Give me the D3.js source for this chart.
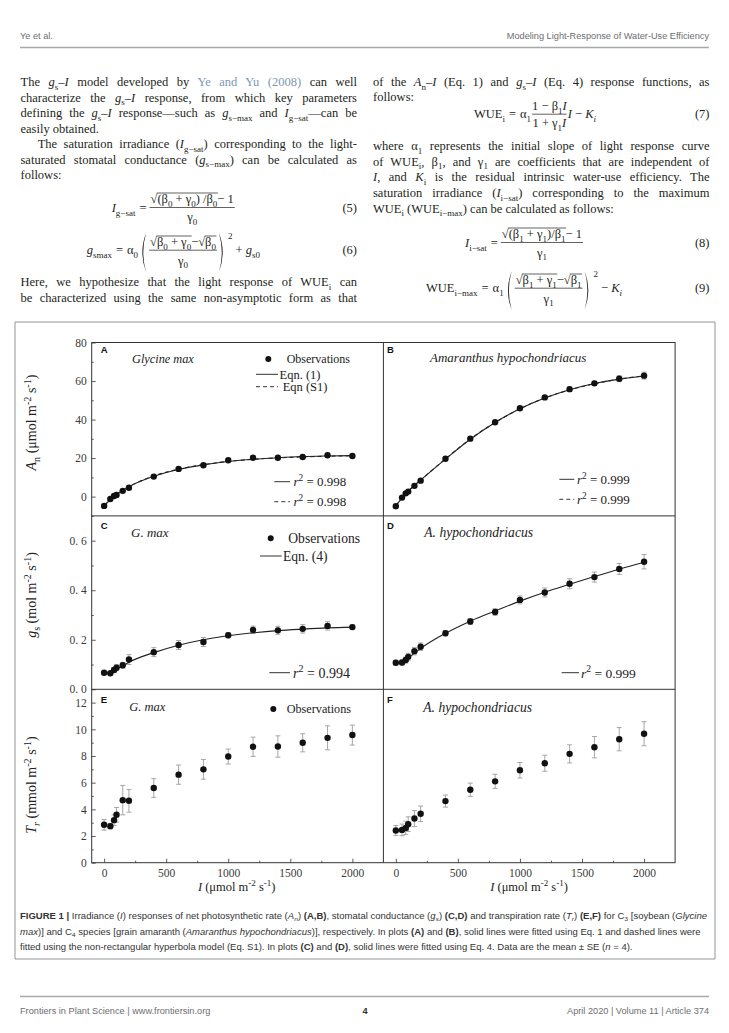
<!DOCTYPE html>
<html>
<head>
<meta charset="utf-8">
<script src="https://cdn.jsdelivr.net/npm/d3@7"></script>
<style>
  body { margin: 0; background: #fff; }
  svg { display: block; }
</style>
</head>
<body>
<div id="page"></div>
<script>
// ---- data ----
const irradiance = [0, 50, 80, 100, 150, 200, 400, 600, 800, 1000, 1200, 1400, 1600, 1800, 2000];

// net photosynthetic rate An (umol m-2 s-1)
const anSoy   = [-4.8, -1.2, 0.3, 0.9, 3.0, 4.6, 10.4, 14.4, 16.3, 18.9, 20.2, 20.2, 20.6, 21.5, 21.1];
const anSoySE = [0.3, 0.3, 0.3, 0.3, 0.3, 0.3, 0.4, 0.5, 0.5, 0.5, 0.5, 0.5, 0.6, 0.6, 0.6];
const anSoyFit1  = [-4.6, -1.6, 0.1, 1.1, 3.3, 5.2, 10.6, 14.1, 16.5, 18.2, 19.4, 20.2, 20.8, 21.1, 21.3];
const anSoyFitS1 = [-4.7, -1.6, 0.1, 1.1, 3.3, 5.2, 10.7, 14.3, 16.6, 18.3, 19.4, 20.1, 20.6, 21.0, 21.2];
const anAma   = [-5.0, -0.5, 1.7, 2.6, 5.6, 8.3, 19.7, 30.1, 38.6, 45.9, 51.5, 55.8, 58.8, 61.2, 62.8];
const anAmaSE = [0.3, 0.3, 0.3, 0.3, 0.4, 0.4, 0.5, 0.6, 0.7, 0.8, 0.9, 1.0, 1.1, 1.5, 1.8];
const anAmaFit1  = [-4.8, -0.6, 1.6, 2.9, 5.8, 8.6, 19.5, 29.8, 38.5, 45.6, 51.2, 55.5, 58.7, 61.0, 62.6];
const anAmaFitS1 = [-4.8, -0.6, 1.6, 2.9, 5.8, 8.6, 19.6, 29.9, 38.5, 45.6, 51.2, 55.4, 58.6, 61.0, 62.7];

// stomatal conductance gs (mol m-2 s-1)
const gsSoy   = [0.067, 0.065, 0.078, 0.087, 0.097, 0.120, 0.150, 0.179, 0.191, 0.218, 0.240, 0.238, 0.244, 0.256, 0.251];
const gsSoySE = [0.005, 0.005, 0.010, 0.012, 0.012, 0.020, 0.018, 0.018, 0.018, 0.010, 0.015, 0.016, 0.017, 0.017, 0.008];
const gsSoyFit = [0.064, 0.070, 0.077, 0.082, 0.094, 0.109, 0.148, 0.178, 0.200, 0.216, 0.228, 0.237, 0.243, 0.248, 0.251];
const gsAma   = [0.107, 0.108, 0.118, 0.131, 0.154, 0.172, 0.226, 0.274, 0.312, 0.361, 0.391, 0.426, 0.453, 0.486, 0.515];
const gsAmaSE = [0.010, 0.010, 0.012, 0.014, 0.015, 0.015, 0.010, 0.012, 0.013, 0.016, 0.018, 0.020, 0.020, 0.022, 0.029];
const gsAmaFit = [0.104, 0.110, 0.119, 0.126, 0.146, 0.165, 0.226, 0.275, 0.316, 0.356, 0.392, 0.424, 0.455, 0.485, 0.513];

// transpiration rate Tr (mmol m-2 s-1)
const trSoy   = [2.84, 2.74, 3.19, 3.59, 4.69, 4.64, 5.60, 6.60, 7.00, 7.96, 8.69, 8.71, 8.99, 9.36, 9.57];
const trSoySE = [0.40, 0.20, 0.40, 0.55, 1.10, 0.85, 0.70, 0.72, 0.74, 0.56, 0.72, 0.80, 0.68, 0.90, 0.75];
const trAma   = [2.41, 2.46, 2.61, 2.89, 3.31, 3.67, 4.62, 5.47, 6.10, 6.93, 7.46, 8.16, 8.66, 9.26, 9.67];
const trAmaSE = [0.38, 0.44, 0.50, 0.55, 0.60, 0.58, 0.45, 0.50, 0.53, 0.58, 0.60, 0.68, 0.80, 0.87, 0.90];

const xTicks = [0, 500, 1000, 1500, 2000];
const xMinor = [250, 750, 1250, 1750];
const anTicks = [0, 20, 40, 60, 80];
const anMinor = [-10, 10, 30, 50, 70];
const gsTicks = [0, 0.2, 0.4, 0.6];
const gsMinor = [0.1, 0.3, 0.5];
const trTicks = [0, 2, 4, 6, 8, 10, 12];
const trMinor = [1, 3, 5, 7, 9, 11];

// ---- page ----
const SERIF = "'Liberation Serif','Times New Roman',serif";
const SANS = "'Liberation Sans',Arial,sans-serif";
const INK = '#231f20';
const LINK = '#7d98b3';

const svg = d3.select('#page').append('svg')
    .attr('width', 729)
    .attr('height', 1033);

// markup: plain text with {i:..} {b:..} {sub:..} {sup:..} {isub:..} {c:..}
function rich(parent, x, y, markup, o) {
    o = o || {};
    const size = o.size || 12.5;
    const t = parent.append('text')
        .attr('x', x).attr('y', y)
        .attr('font-family', o.family || SERIF)
        .attr('font-size', size)
        .attr('fill', o.fill || INK);
    if (o.anchor) t.attr('text-anchor', o.anchor);
    if (o.transform) t.attr('transform', o.transform);
    let shift = 0;
    const re = /\{(\w+):([^}]*)\}|([^{]+)/g;
    let m;
    while ((m = re.exec(markup))) {
        const style = m[1] || '';
        const str = m[1] ? m[2] : m[3];
        let target = 0;
        if (style.includes('sub')) target = size * 0.28;
        if (style.includes('sup')) target = -size * 0.38;
        const ts = t.append('tspan').text(str);
        if (target !== shift) { ts.attr('dy', target - shift); shift = target; }
        if (target !== 0) ts.attr('font-size', size * 0.72);
        if (style.startsWith('i')) ts.attr('font-style', 'italic');
        if (style.startsWith('b')) ts.attr('font-weight', 'bold');
        if (style === 'c') ts.attr('fill', LINK);
    }
    return t;
}

function justify(t, width) {
    const w = t.node().getComputedTextLength();
    const n = (t.text().match(/ /g) || []).length;
    if (n) t.attr('word-spacing', (width - w) / n);
}

function put(x, y, markup, size) {
    const t = rich(svg, x, y, markup, { size: size || 12.5 });
    return t.node().getComputedTextLength();
}

function measure(markup, o) {
    const t = rich(svg, 0, 50, markup, o);
    const w = t.node().getComputedTextLength();
    t.remove();
    return w;
}

function sqrtPiece(x, y, markup, size) {
    const wr = put(x, y, '√', size);
    const w = put(x + wr, y, markup, size);
    svg.append('line')
        .attr('x1', x + wr - 0.6).attr('x2', x + wr + w + 0.5)
        .attr('y1', y - size * 0.8).attr('y2', y - size * 0.8)
        .attr('stroke', INK).attr('stroke-width', 0.7);
    return wr + w;
}

function bar(x1, x2, y) {
    svg.append('line').attr('x1', x1).attr('x2', x2).attr('y1', y).attr('y2', y)
        .attr('stroke', INK).attr('stroke-width', 0.7);
}

function paren(x, y1, y2, left) {
    const mid = (y1 + y2) / 2;
    const p = left
        ? `M${x + 5},${y1} Q${x - 2.5},${mid} ${x + 5},${y2} Q${x - 0.6},${mid} ${x + 5},${y1}Z`
        : `M${x},${y1} Q${x + 7.5},${mid} ${x},${y2} Q${x + 5.6},${mid} ${x},${y1}Z`;
    svg.append('path').attr('d', p).attr('fill', INK);
}

// header / footer
function grayText(x, y, s, anchor, bold) {
    svg.append('text').attr('x', x).attr('y', y)
        .attr('font-family', SANS).attr('font-size', 9.2)
        .attr('fill', bold ? '#333' : '#6d6e71')
        .attr('font-weight', bold ? 'bold' : null)
        .attr('text-anchor', anchor || 'start')
        .text(s);
}
grayText(20, 39, 'Ye et al.');
grayText(709, 39, 'Modeling Light-Response of Water-Use Efficiency', 'end');
grayText(20, 1014, 'Frontiers in Plant Science | www.frontiersin.org');
grayText(365, 1014, '4', 'middle', true);
grayText(709, 1014, 'April 2020 | Volume 11 | Article 374', 'end');
[47.5, 996.5].forEach(y => {
    svg.append('line').attr('x1', 20).attr('x2', 709).attr('y1', y).attr('y2', y)
        .attr('stroke', '#a7a9ac').attr('stroke-width', 1.4);
});

// body text, left column
const leftLines = [
    [20.5, 86, 'The {i:g}{sub:s}–{i:I} model developed by {c:Ye and Yu (2008)} can well', true],
    [20.5, 101.5, 'characterize the {i:g}{sub:s}–{i:I} response, from which key parameters', true],
    [20.5, 117, 'defining the {i:g}{sub:s}–{i:I} response—such as {i:g}{sub:s−max} and {i:I}{sub:g−sat}—can be', true],
    [20.5, 132.5, 'easily obtained.', false],
    [37.7, 148, 'The saturation irradiance ({i:I}{sub:g−sat}) corresponding to the light-', true],
    [20.5, 163.5, 'saturated stomatal conductance ({i:g}{sub:s−max}) can be calculated as', true],
    [20.5, 179, 'follows:', false],
    [20.5, 286, 'Here, we hypothesize that the light response of WUE{sub:i} can', true],
    [20.5, 301.5, 'be characterized using the same non-asymptotic form as that', true]
];
leftLines.forEach(([x, y, s, j]) => {
    const t = rich(svg, x, y, s, { size: 12.5 });
    if (j) justify(t, 357 - x);
});

const rightLines = [
    [373, 86, 'of the {i:A}{sub:n}–{i:I} (Eq. 1) and {i:g}{sub:s}–{i:I} (Eq. 4) response functions, as', true],
    [373, 101, 'follows:', false],
    [373, 150, 'where α{sub:1} represents the initial slope of light response curve', true],
    [373, 165.7, 'of WUE{sub:i}, β{sub:1}, and γ{sub:1} are coefficients that are independent of', true],
    [373, 181.3, '{i:I}, and {i:K}{sub:i} is the residual intrinsic water-use efficiency. The', true],
    [373, 197, 'saturation irradiance ({i:I}{sub:i−sat}) corresponding to the maximum', true],
    [373, 212.5, 'WUE{sub:i} (WUE{sub:i−max}) can be calculated as follows:', false]
];
rightLines.forEach(([x, y, s, j]) => {
    const t = rich(svg, x, y, s, { size: 12.5 });
    if (j) justify(t, 709.5 - x);
});

// equation numbers
[[357, 212, '(5)'], [357, 254, '(6)'], [709.5, 118, '(7)'], [709.5, 247, '(8)'], [709.5, 292, '(9)']]
    .forEach(([x, y, s]) => rich(svg, x, y, s, { size: 12.5, anchor: 'end' }));

const S = 12.5;
// (5)
(function () {
    let c = 111.7, b = 212;
    c += put(c, b, '{i:I}{sub:g−sat}') + 4;
    c += put(c, b, '=') + 4;
    const n0 = c;
    let w = sqrtPiece(c, b - 9, '(β{sub:0} + γ{sub:0}) /β{sub:0}', S);
    w += put(c + w, b - 9, ' − 1');
    bar(n0 - 1, n0 + w + 1, b - 4.5);
    rich(svg, n0 + w / 2, b + 9, 'γ{sub:0}', { size: S, anchor: 'middle' });
})();
// (6)
(function () {
    let c = 86.7, b = 254;
    c += put(c, b, '{i:g}{sub:smax}') + 4;
    c += put(c, b, '=') + 4;
    c += put(c, b, 'α{sub:0}') + 3;
    paren(c, b - 21, b + 18, true);
    c += 9;
    const n0 = c;
    let w = sqrtPiece(c, b - 8, 'β{sub:0} + γ{sub:0}', S);
    w += put(c + w, b - 8, ' − ');
    w += sqrtPiece(c + w, b - 8, 'β{sub:0}', S);
    bar(n0 - 1, n0 + w + 1, b - 3.8);
    rich(svg, n0 + w / 2, b + 10.5, 'γ{sub:0}', { size: S, anchor: 'middle' });
    c = n0 + w + 3;
    paren(c, b - 21, b + 18, false);
    c += 9;
    c += put(c, b - 15, '2', 9) + 3;
    put(c, b, '+ {i:g}{sub:s0}');
})();
// (7)
(function () {
    let c = 474, b = 118;
    c += put(c, b, 'WUE{sub:i}') + 4;
    c += put(c, b, '=') + 4;
    c += put(c, b, 'α{sub:1}') + 1;
    const wn = measure('1 − β{sub:1}{i:I}', { size: S });
    const wd = measure('1 + γ{sub:1}{i:I}', { size: S });
    const W = Math.max(wn, wd);
    rich(svg, c + W / 2, b - 8, '1 − β{sub:1}{i:I}', { size: S, anchor: 'middle' });
    rich(svg, c + W / 2, b + 9, '1 + γ{sub:1}{i:I}', { size: S, anchor: 'middle' });
    bar(c, c + W, b - 3.8);
    c += W + 1;
    put(c, b, '{i:I} − {i:K}{isub:i}');
})();
// (8)
(function () {
    let c = 465, b = 247;
    c += put(c, b, '{i:I}{sub:i−sat}') + 4;
    c += put(c, b, '=') + 4;
    const n0 = c;
    let w = sqrtPiece(c, b - 9, '(β{sub:1} + γ{sub:1})/β{sub:1}', S);
    w += put(c + w, b - 9, ' − 1');
    bar(n0 - 1, n0 + w + 1, b - 4.5);
    rich(svg, n0 + w / 2, b + 9.5, 'γ{sub:1}', { size: S, anchor: 'middle' });
})();
// (9)
(function () {
    let c = 426, b = 292;
    c += put(c, b, 'WUE{sub:i−max}') + 4;
    c += put(c, b, '=') + 4;
    c += put(c, b, 'α{sub:1}') + 3;
    paren(c, b - 21, b + 18, true);
    c += 9;
    const n0 = c;
    let w = sqrtPiece(c, b - 8, 'β{sub:1} + γ{sub:1}', S);
    w += put(c + w, b - 8, ' − ');
    w += sqrtPiece(c + w, b - 8, 'β{sub:1}', S);
    bar(n0 - 1, n0 + w + 1, b - 3.8);
    rich(svg, n0 + w / 2, b + 10.5, 'γ{sub:1}', { size: S, anchor: 'middle' });
    c = n0 + w + 3;
    paren(c, b - 21, b + 18, false);
    c += 9;
    c += put(c, b - 15, '2', 9) + 3;
    put(c, b, '− {i:K}{isub:i}');
})();

// figure frame
const frame = svg.append('g').attr('stroke', '#939598').attr('stroke-width', 1).attr('fill', 'none');
frame.append('path').attr('d', 'M15,959 V322 H715 V959 H15');

// ---- chart ----
const X0 = 91.7, XM = 383.4, X1 = 675.1;
const rowTop = [342.5, 515.9, 689.3];
const rowBot = [515.9, 689.3, 862.7];

const xL = d3.scaleLinear().domain([-100, 2250]).range([X0, XM]);
const xR = d3.scaleLinear().domain([-100, 2250]).range([XM, X1]);
const yAn = d3.scaleLinear().domain([-10, 80]).range([rowBot[0], rowTop[0]]);
const yGs = d3.scaleLinear().domain([0, 0.7]).range([rowBot[1], rowTop[1]]);
const yTr = d3.scaleLinear().domain([0, 13]).range([rowBot[2], rowTop[2]]);

const chart = svg.append('g');

function styleAxis(g, size) {
    g.attr('font-family', SERIF).attr('font-size', size).attr('fill', null);
    g.selectAll('.domain').remove();
    g.selectAll('line').attr('stroke', '#333').attr('stroke-width', 0.8);
    g.selectAll('text').attr('fill', '#3a3a3a');
}

function yAxis(scale, major, minor, fmt) {
    chart.append('g').attr('transform', `translate(${X0},0)`)
        .call(d3.axisLeft(scale).tickValues(major).tickSize(-4).tickPadding(5).tickFormat(fmt))
        .call(g => styleAxis(g, 11.5));
    chart.append('g').attr('transform', `translate(${X0},0)`)
        .call(d3.axisLeft(scale).tickValues(minor).tickSize(-2).tickFormat(''))
        .call(g => styleAxis(g, 11.5));
}
yAxis(yAn, anTicks, anMinor, d3.format('d'));
yAxis(yGs, gsTicks, gsMinor, d => d3.format('.1f')(d).replace('.', '. '));
yAxis(yTr, trTicks, trMinor, d3.format('d'));

[xL, xR].forEach(xs => {
    chart.append('g').attr('transform', `translate(0,${rowBot[2]})`)
        .call(d3.axisBottom(xs).tickValues(xTicks).tickSize(-4).tickPadding(6).tickFormat(d3.format('d')))
        .call(g => styleAxis(g, 11.5));
    chart.append('g').attr('transform', `translate(0,${rowBot[2]})`)
        .call(d3.axisBottom(xs).tickValues(xMinor).tickSize(-2).tickFormat(''))
        .call(g => styleAxis(g, 11.5));
});

// panel borders
const borders = chart.append('g').attr('stroke', '#333').attr('stroke-width', 1).attr('fill', 'none');
borders.append('rect').attr('x', X0).attr('y', rowTop[0]).attr('width', X1 - X0).attr('height', rowBot[2] - rowTop[0]);
borders.append('line').attr('x1', XM).attr('x2', XM).attr('y1', rowTop[0]).attr('y2', rowBot[2]);
[rowBot[0], rowBot[1]].forEach(y => borders.append('line').attr('x1', X0).attr('x2', X1).attr('y1', y).attr('y2', y));

const panels = [
    { x: xL, y: yAn, obs: anSoy, se: anSoySE, fits: [[anSoyFit1, null], [anSoyFitS1, '4,3']] },
    { x: xR, y: yAn, obs: anAma, se: anAmaSE, fits: [[anAmaFit1, null], [anAmaFitS1, '4,3']] },
    { x: xL, y: yGs, obs: gsSoy, se: gsSoySE, fits: [[gsSoyFit, null]] },
    { x: xR, y: yGs, obs: gsAma, se: gsAmaSE, fits: [[gsAmaFit, null]] },
    { x: xL, y: yTr, obs: trSoy, se: trSoySE, fits: [] },
    { x: xR, y: yTr, obs: trAma, se: trAmaSE, fits: [] }
];

panels.forEach(p => {
    const g = chart.append('g');
    const rows = irradiance.map((I, i) => ({ I, v: p.obs[i], se: p.se[i] }));

    const eb = g.append('g').attr('stroke', '#9d9d9d').attr('stroke-width', 0.9);
    rows.forEach(d => {
        const cx = p.x(d.I), y1 = p.y(d.v - d.se), y2 = p.y(d.v + d.se);
        eb.append('line').attr('x1', cx).attr('x2', cx).attr('y1', y1).attr('y2', y2);
        eb.append('line').attr('x1', cx - 2.5).attr('x2', cx + 2.5).attr('y1', y1).attr('y2', y1);
        eb.append('line').attr('x1', cx - 2.5).attr('x2', cx + 2.5).attr('y1', y2).attr('y2', y2);
    });

    p.fits.forEach(([vals, dash]) => {
        const line = d3.line()
            .x((d, i) => p.x(irradiance[i]))
            .y(d => p.y(d))
            .curve(d3.curveMonotoneX);
        g.append('path').datum(vals)
            .attr('d', line)
            .attr('fill', 'none')
            .attr('stroke', '#222')
            .attr('stroke-width', 1.1)
            .attr('stroke-dasharray', dash);
    });

    g.selectAll('circle').data(rows).join('circle')
        .attr('cx', d => p.x(d.I))
        .attr('cy', d => p.y(d.v))
        .attr('r', 3.2)
        .attr('fill', '#111');
});

// panel letters and species names
[['A', 100.7, 352.5], ['B', 387, 352.5], ['C', 100.7, 528.5], ['D', 387, 528.5], ['E', 100.7, 702.7], ['F', 387, 702.7]]
    .forEach(([s, x, y]) => {
        chart.append('text').attr('x', x).attr('y', y)
            .attr('font-family', SANS).attr('font-weight', 'bold').attr('font-size', 9.5)
            .attr('fill', '#111').text(s);
    });
[['Glycine max', 132, 363, 12.3], ['Amaranthus hypochondriacus', 430, 362, 13],
 ['G. max', 131, 537, 13], ['A. hypochondriacus', 424.3, 537, 13.6],
 ['G. max', 129.3, 711, 12.5], ['A. hypochondriacus', 423.3, 711.5, 13.6]]
    .forEach(([s, x, y, fs]) => rich(chart, x, y, `{i:${s}}`, { size: fs, fill: '#222' }));

// legends
function legLine(x1, x2, y, dash) {
    chart.append('line').attr('x1', x1).attr('x2', x2).attr('y1', y).attr('y2', y)
        .attr('stroke', '#333').attr('stroke-width', 1).attr('stroke-dasharray', dash || null);
}
function legDot(cx, cy) {
    chart.append('circle').attr('cx', cx).attr('cy', cy).attr('r', 3).attr('fill', '#111');
}
legDot(268.3, 359); rich(chart, 286.7, 363, 'Observations', { size: 12, fill: '#222' });
legLine(256, 278, 374.3); rich(chart, 279.5, 378.5, 'Eqn. (1)', { size: 12.5, fill: '#222' });
legLine(256, 278, 386.7, '4,3'); rich(chart, 282.7, 391, 'Eqn (S1)', { size: 12.5, fill: '#222' });
legLine(274.3, 290, 481.7); rich(chart, 293.5, 486, '{i:r}{sup:2} = 0.998', { size: 13, fill: '#222' });
legLine(274.3, 290, 501.7, '4,3'); rich(chart, 293.5, 506, '{i:r}{sup:2} = 0.998', { size: 13, fill: '#222' });
legLine(559.3, 574.3, 479.3); rich(chart, 577, 484, '{i:r}{sup:2} = 0.999', { size: 13, fill: '#222' });
legLine(559.3, 574.3, 499.3, '4,3'); rich(chart, 577, 504, '{i:r}{sup:2} = 0.999', { size: 13, fill: '#222' });

legDot(270.7, 538.3); rich(chart, 288.3, 543, 'Observations', { size: 13.6, fill: '#222' });
legLine(260, 281.7, 556); rich(chart, 283, 560.5, 'Eqn. (4)', { size: 13.6, fill: '#222' });
legLine(269.3, 290, 672.7); rich(chart, 293, 677.5, '{i:r}{sup:2} = 0.994', { size: 14, fill: '#222' });
legLine(561.7, 579, 672.7); rich(chart, 581, 677.5, '{i:r}{sup:2} = 0.999', { size: 13.5, fill: '#222' });

legDot(273.3, 709); rich(chart, 286.7, 713, 'Observations', { size: 12.2, fill: '#222' });

// axis titles
[['{i:A}{sub:n} (μmol m{sup:-2} s{sup:-1})', 422.5],
 ['{i:g}{sub:s} (mol m{sup:-2} s{sup:-1})', 595],
 ['{i:T}{isub:r} (mmol m{sup:-2} s{sup:-1})', 785]].forEach(([s, cy]) => {
    rich(chart, 36, cy, s, { size: 14, anchor: 'middle', transform: `rotate(-90,36,${cy})`, fill: '#222' });
});
rich(chart, 236.7, 891, '{i:I} (μmol m{sup:-2} s{sup:-1})', { size: 12.5, anchor: 'middle', fill: '#222' });
rich(chart, 529, 891, '{i:I} (μmol m{sup:-2} s{sup:-1})', { size: 12.5, anchor: 'middle', fill: '#222' });

// caption: all lines share one horizontal squeeze so line 1 spans the box width
const caption = [
    [919, '{b:FIGURE 1 |} Irradiance ({i:I}) responses of net photosynthetic rate ({i:A}{isub:n}) {b:(A,B)}, stomatal conductance ({i:g}{isub:s}) {b:(C,D)} and transpiration rate ({i:T}{isub:r}) {b:(E,F)} for C{sub:3} [soybean ({i:Glycine}'],
    [934.5, '{i:max})] and C{sub:4} species [grain amaranth ({i:Amaranthus hypochondriacus})], respectively. In plots {b:(A)} and {b:(B)}, solid lines were fitted using Eq. 1 and dashed lines were'],
    [950, 'fitted using the non-rectangular hyperbola model (Eq. S1). In plots {b:(C)} and {b:(D)}, solid lines were fitted using Eq. 4. Data are the mean ± SE ({i:n} = 4).']
];
const capOpts = { size: 8.6, family: SANS, fill: '#333' };
const squeeze = 687 / measure(caption[0][1], capOpts);
caption.forEach(([y, s]) => {
    const t = rich(svg, 20, y, s, capOpts);
    const w = t.node().getComputedTextLength();
    t.attr('textLength', w * squeeze).attr('lengthAdjust', 'spacingAndGlyphs');
});
</script>
</body>
</html>
